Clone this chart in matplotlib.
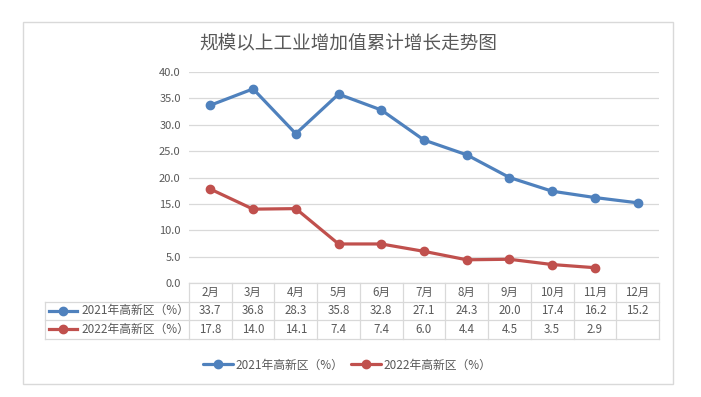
"""
Line chart with Excel-style data table: 规模以上工业增加值累计增长走势图
Output: out.png
"""
import matplotlib.pyplot as plt
from matplotlib.lines import Line2D
from matplotlib.patches import Rectangle
from matplotlib.transforms import blended_transform_factory

plt.rcParams['font.family'] = ['Noto Sans CJK SC', 'DejaVu Sans']

TITLE = "规模以上工业增加值累计增长走势图"
MONTHS = ["2月", "3月", "4月", "5月", "6月", "7月", "8月", "9月", "10月", "11月", "12月"]
SERIES_2021 = "2021年高新区（%）"
SERIES_2022 = "2022年高新区（%）"
VALUES_2021 = [33.7, 36.8, 28.3, 35.8, 32.8, 27.1, 24.3, 20.0, 17.4, 16.2, 15.2]
VALUES_2022 = [17.8, 14.0, 14.1, 7.4, 7.4, 6.0, 4.4, 4.5, 3.5, 2.9]
Y_TICKS = [0, 5, 10, 15, 20, 25, 30, 35, 40]

BLUE = "#4F81BD"
RED = "#C0504D"
GRID = "#D9D9D9"
TEXT = "#595959"

W, H = 701, 397


def fy(py):
    # pixel row (from top) -> figure fraction
    return 1 - py / H


def fx(px):
    return px / W


def main():
    fig = plt.figure(figsize=(W / 100, H / 100), dpi=100)
    fig.patch.set_facecolor("white")

    # chart frame
    fig.add_artist(Rectangle((fx(23), fy(384)), fx(650), 362.5 / H,
                             transform=fig.transFigure, fill=False,
                             edgecolor=GRID, linewidth=1.0))

    x0, x1, ytop, ybot = 189, 659, 72, 283
    ax = fig.add_axes([fx(x0), fy(ybot), fx(x1 - x0), (ybot - ytop) / H])
    n = len(MONTHS)
    xs = list(range(n))
    ax.set_xlim(-0.5, n - 0.5)
    ax.set_ylim(0, 40)
    ax.set_yticks(Y_TICKS)
    ax.set_yticklabels([f"{v:.1f}" for v in Y_TICKS], color=TEXT, fontsize=8)
    ax.tick_params(axis="y", length=0, pad=6)
    ax.set_xticks([])
    for s in ax.spines.values():
        s.set_visible(False)
    ax.grid(axis="y", color=GRID, linewidth=0.9)
    ax.set_axisbelow(True)

    line_kw = dict(linewidth=2.3, marker="o", markersize=6, solid_capstyle="round")
    ax.plot(xs[:len(VALUES_2021)], VALUES_2021, color=BLUE, label=SERIES_2021, **line_kw)
    ax.plot(xs[:len(VALUES_2022)], VALUES_2022, color=RED, label=SERIES_2022, **line_kw)

    fig.text(fx(348), fy(43), TITLE, ha="center", va="center", fontsize=13.4, color=TEXT)

    # data table below the plot
    tr = blended_transform_factory(ax.transData, fig.transFigure)
    rows = [283, 301.5, 320, 338.5]
    left = 45
    # horizontal lines
    fig.add_artist(Line2D([fx(x0), fx(x1)], [fy(rows[0])] * 2, transform=fig.transFigure,
                          color=GRID, linewidth=0.9))
    for r in rows[1:]:
        fig.add_artist(Line2D([fx(left), fx(x1)], [fy(r)] * 2, transform=fig.transFigure,
                              color=GRID, linewidth=0.9))
    # vertical lines
    fig.add_artist(Line2D([fx(left), fx(left)], [fy(rows[1]), fy(rows[3])],
                          transform=fig.transFigure, color=GRID, linewidth=0.9))
    for k in range(n + 1):
        fig.add_artist(Line2D([k - 0.5, k - 0.5], [fy(rows[0]), fy(rows[3])], transform=tr,
                              color=GRID, linewidth=0.9))

    def cy(i):
        return fy((rows[i] + rows[i + 1]) / 2)

    for i, m in enumerate(MONTHS):
        fig.text(i, cy(0), m, transform=tr, ha="center", va="center", fontsize=8.3, color=TEXT)
    for i, v in enumerate(VALUES_2021):
        fig.text(i, cy(1), f"{v:.1f}", transform=tr, ha="center", va="center", fontsize=8.3, color=TEXT)
    for i, v in enumerate(VALUES_2022):
        fig.text(i, cy(2), f"{v:.1f}", transform=tr, ha="center", va="center", fontsize=8.3, color=TEXT)

    # legend keys inside table
    for row, color, name in [(1, BLUE, SERIES_2021), (2, RED, SERIES_2022)]:
        fig.add_artist(Line2D([fx(49), fx(77)], [cy(row)] * 2, transform=fig.transFigure,
                              color=color, linewidth=2.3))
        fig.add_artist(Line2D([fx(63)], [cy(row)], transform=fig.transFigure,
                              color=color, marker="o", markersize=6, linestyle="none"))
        fig.text(fx(81), cy(row), name, ha="left", va="center", fontsize=8.5, color=TEXT)

    leg = fig.legend(loc="center", bbox_to_anchor=(fx(347), fy(365)), ncol=2, frameon=False,
                     fontsize=8.5, handlelength=2.6, columnspacing=0.6, handletextpad=0.2)
    for t in leg.get_texts():
        t.set_color(TEXT)

    fig.savefig("out.png", dpi=100, facecolor="white")
    plt.close()
    print("Saved out.png")


if __name__ == "__main__":
    main()
